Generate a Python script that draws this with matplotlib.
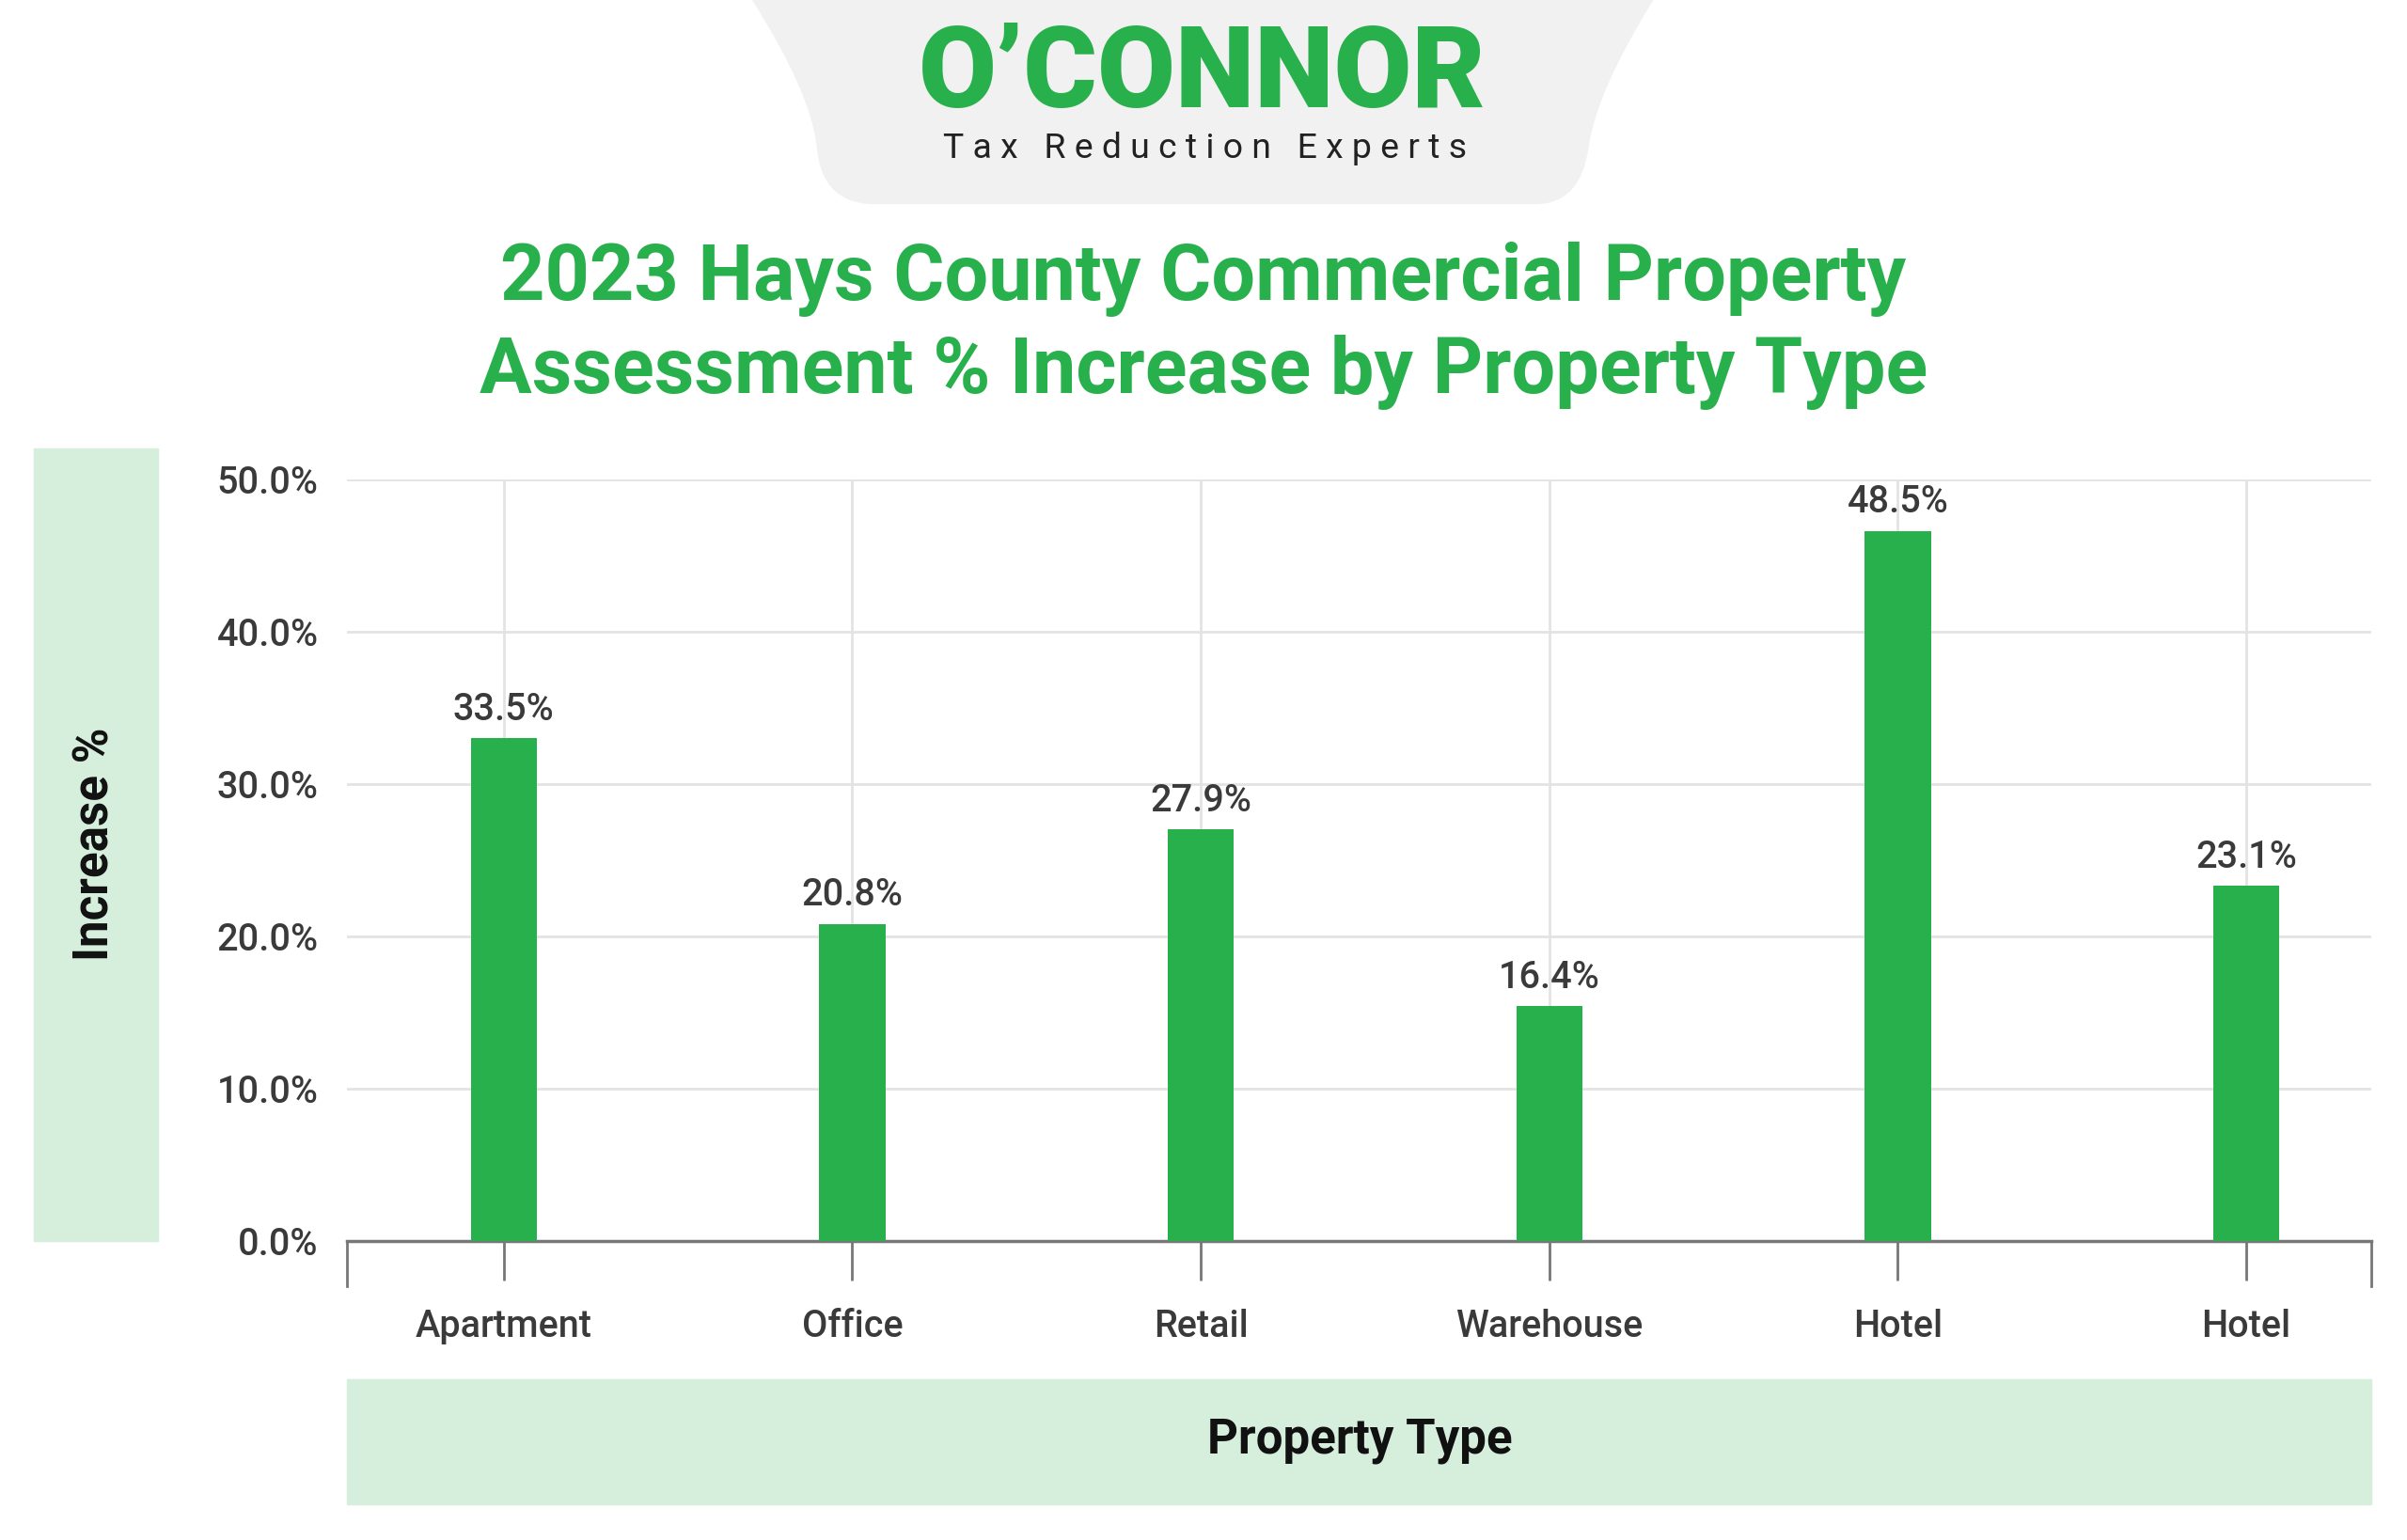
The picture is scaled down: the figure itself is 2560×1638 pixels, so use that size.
import matplotlib
matplotlib.use("Agg")
import matplotlib.pyplot as plt
from matplotlib.patches import Rectangle, PathPatch
from matplotlib.path import Path

categories = ["Apartment", "Office", "Retail", "Warehouse", "Hotel", "Hotel"]
bar_values = [33.0, 20.8, 27.0, 15.4, 46.6, 23.3]
label_texts = ["33.5%", "20.8%", "27.9%", "16.4%", "48.5%", "23.1%"]
yticks = [0, 10, 20, 30, 40, 50]

GREEN = "#27b04b"
LIGHT = "#d5efdc"
TXT = "#3a3a3a"
W, H = 1568, 1003

plt.rcParams["font.family"] = "Roboto"
fig = plt.figure(figsize=(25.6, 16.38), dpi=100)
S = 2560 / W

def fx(x): return x / W
def fy(y): return 1 - y / H

verts = [(fx(490), fy(0)), (fx(1077), fy(0)),
         (fx(1040), fy(60)), (fx(1035), fy(95)),
         (fx(1030), fy(133)), (fx(1000), fy(133)),
         (fx(570), fy(133)),
         (fx(535), fy(133)), (fx(532), fy(95)),
         (fx(528), fy(60)), (fx(490), fy(0)), (fx(490), fy(0))]
codes = [Path.MOVETO, Path.LINETO, Path.CURVE3, Path.CURVE3, Path.CURVE3, Path.CURVE3,
         Path.LINETO, Path.CURVE3, Path.CURVE3, Path.CURVE3, Path.CURVE3, Path.CLOSEPOLY]
fig.patches.append(PathPatch(Path(verts, codes), transform=fig.transFigure,
                             facecolor="#f1f1f1", edgecolor="none", zorder=0))
fig.text(fx(783), fy(50), "O\u2019CONNOR", ha="center", va="center", color=GREEN,
         fontsize=53 * S, fontweight="black")
fig.text(fx(785), fy(97), "T a x   R e d u c t i o n   E x p e r t s", ha="center", va="center",
         color="#222222", fontsize=16.5 * S)

fig.text(fx(784), fy(212), "2023 Hays County Commercial Property\nAssessment % Increase by Property Type",
         ha="center", va="center", color=GREEN, fontsize=36.5 * S, fontweight="bold", linespacing=1.3)

fig.patches.append(Rectangle((fx(22), fy(808)), fx(81), (808 - 292) / H, transform=fig.transFigure,
                             color=LIGHT, zorder=0))
fig.text(fx(62), fy(550), "Increase %", rotation=90, ha="center", va="center",
         fontsize=22.5 * S, fontweight="bold", color="#111111")
fig.patches.append(Rectangle((fx(226), fy(980)), fx(1545 - 226), (980 - 898) / H, transform=fig.transFigure,
                             color=LIGHT, zorder=0))
fig.text(fx(886), fy(938), "Property Type", ha="center", va="center",
         fontsize=22.5 * S, fontweight="bold", color="#111111")

ax = fig.add_axes([fx(226), fy(808), fx(1545 - 226), (808 - 312) / H])
x = list(range(len(categories)))
ax.bar(x, bar_values, width=0.19, color=GREEN, zorder=3)
for xi, v, t in zip(x, bar_values, label_texts):
    ax.text(xi, v + 0.7, t, ha="center", va="bottom", fontsize=17.5 * S, color=TXT, fontweight="medium")

ax.set_xlim(-0.45, 5.36)
ax.set_ylim(0, 50)
ax.set_yticks(yticks)
ax.set_yticklabels([f"{v:.1f}%" for v in yticks], fontsize=17.5 * S, color=TXT, fontweight="medium")
ax.set_xticks(x)
ax.set_xticklabels(categories, fontsize=17.5 * S, color=TXT, fontweight="medium")
ax.grid(True, color="#e3e3e3", linewidth=2, zorder=0)
for s in ["top", "right", "left"]:
    ax.spines[s].set_visible(False)
ax.spines["bottom"].set_color("#777777")
ax.spines["bottom"].set_linewidth(2.5)
ax.tick_params(axis="y", length=0, pad=22)
ax.tick_params(axis="x", length=30, width=2, color="#777777", pad=22)
for xe in ax.get_xlim():
    ax.plot([xe, xe], [0, -3], color="#777777", lw=2, clip_on=False, transform=ax.transData)

fig.savefig("out.png", dpi=100)
